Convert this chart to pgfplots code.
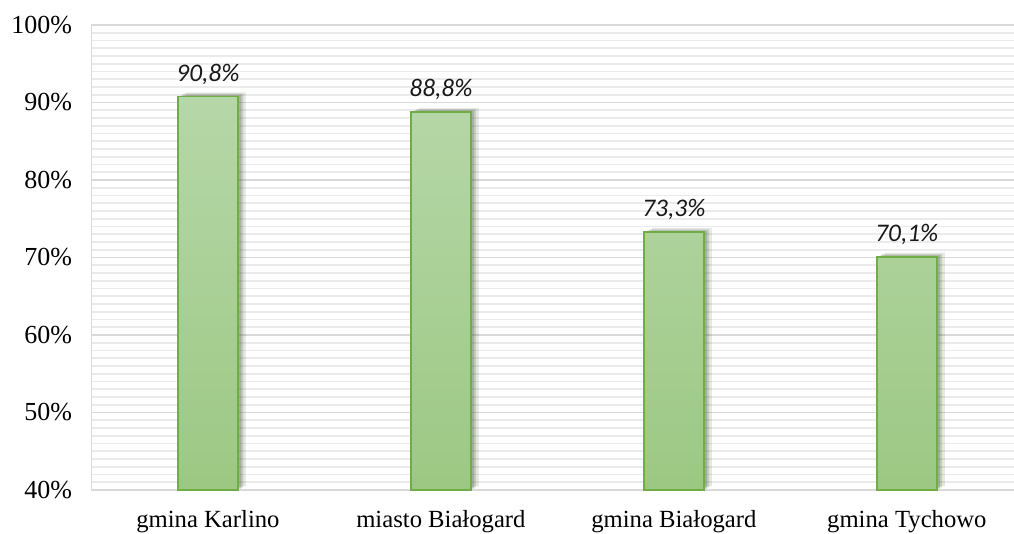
\documentclass[border=0pt]{standalone}
\usepackage{pgfplots}
\pgfplotsset{compat=1.18}
\usepackage{fontspec}
\setmainfont{Liberation Serif}
\newfontfamily\carlito{Carlito}

\definecolor{barTop}{HTML}{B6D7A8}
\definecolor{barBot}{HTML}{9CC883}
\definecolor{barEdge}{HTML}{70AD47}
\definecolor{majGrid}{HTML}{D9D9D9}
\definecolor{minGrid}{HTML}{EBEBEB}

\tikzset{
  softshadow/.style={
    preaction={fill=black, draw=none, opacity=0.08, transform canvas={xshift=6pt, yshift=3pt}},
    preaction={fill=black, draw=none, opacity=0.12, transform canvas={xshift=4pt, yshift=2pt}},
    preaction={fill=black, draw=none, opacity=0.16, transform canvas={xshift=2.5pt, yshift=1pt}},
  }
}

\begin{document}
\begin{tikzpicture}
\path[use as bounding box] (-68.6pt,-32.25pt) rectangle (691.9pt,367.5pt);
\begin{axis}[
    scale only axis,
    width=691.9pt, height=348.75pt,
    xmin=-0.5, xmax=3.46,
    ymin=40, ymax=100,
    xtick={0,1,2,3},
    xticklabels={gmina Karlino, miasto Białogard, gmina Białogard, gmina Tychowo},
    ytick={40,50,...,100},
    yticklabels={40\%,50\%,60\%,70\%,80\%,90\%,100\%},
    minor y tick num=9,
    ymajorgrids, yminorgrids,
    major grid style={majGrid, line width=1.1pt},
    minor grid style={minGrid, line width=1.3pt},
    axis x line*=bottom, axis y line*=left,
    axis line style={majGrid, line width=1.3pt},
    major tick length=0pt, minor tick length=0pt,
    tick label style={font=\fontsize{18.5}{21}\selectfont, text=black},
    yticklabel style={font=\fontsize{19.5}{22}\selectfont, xshift=-11pt},
    xticklabel style={yshift=-12pt},
    ybar, bar width=0.2575,
    nodes near coords={\pgfmathprintnumber[fixed,fixed zerofill,precision=1,use comma,assume math mode=true]{\pgfplotspointmeta}\%},
    every node near coord/.append style={font=\carlito\itshape\fontsize{19}{22}\selectfont, text=black!90, yshift=5pt},
]
\addplot[draw=barEdge, line width=1.2pt, top color=barTop, bottom color=barBot, softshadow]
    coordinates {(0,90.8) (1,88.8) (2,73.3) (3,70.1)};
\end{axis}
\end{tikzpicture}
\end{document}
